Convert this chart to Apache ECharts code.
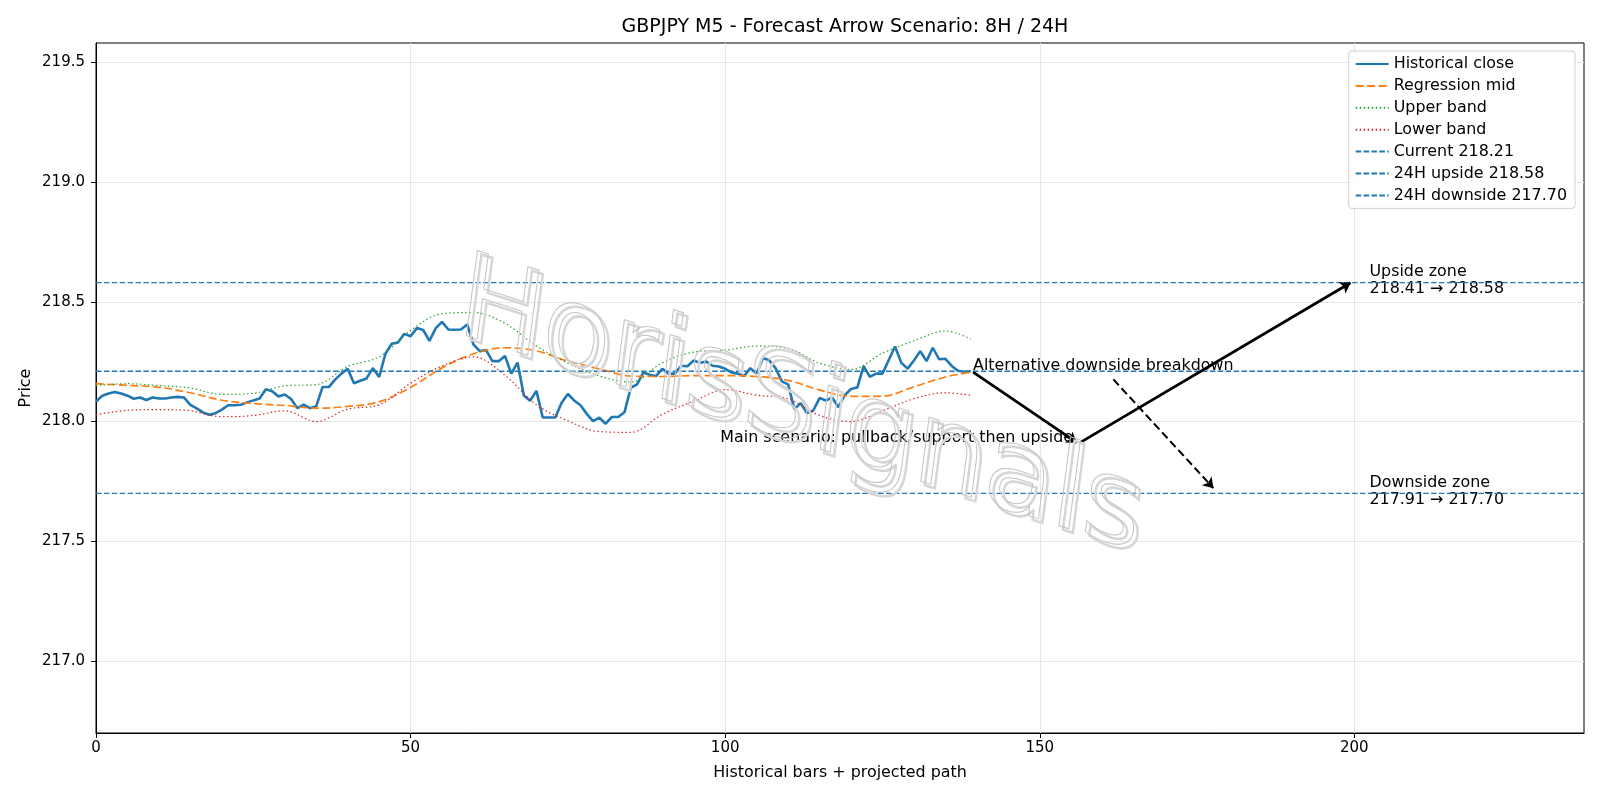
<!DOCTYPE html>
<html>
<head>
<meta charset="utf-8">
<script src="https://cdn.jsdelivr.net/npm/echarts@6/dist/echarts.min.js"></script>
<style>
  html, body { margin: 0; padding: 0; background: #fff; }
  #chart { width: 1600px; height: 800px; }
</style>
</head>
<body>
<div id="chart"></div>
<script>
// historical M5 closes, bar 0..139
const closes = [
  218.084, 218.108, 218.117, 218.123, 218.117, 218.108, 218.095, 218.100, 218.090, 218.100,
  218.096, 218.096, 218.100, 218.103, 218.100, 218.070, 218.055, 218.038, 218.028, 218.035,
  218.050, 218.068, 218.068, 218.070, 218.080, 218.088, 218.096, 218.135, 218.126, 218.105,
  218.113, 218.094, 218.056, 218.070, 218.056, 218.063, 218.144, 218.144, 218.175, 218.200,
  218.220, 218.160, 218.170, 218.180, 218.223, 218.186, 218.283, 218.325, 218.330, 218.366,
  218.356, 218.390, 218.382, 218.337, 218.390, 218.416, 218.384, 218.383, 218.384, 218.405,
  218.321, 218.294, 218.298, 218.252, 218.252, 218.274, 218.200, 218.246, 218.109, 218.087,
  218.128, 218.017, 218.017, 218.017, 218.078, 218.115, 218.088, 218.068, 218.032, 218.002,
  218.016, 217.991, 218.019, 218.019, 218.039, 218.141, 218.155, 218.205, 218.195, 218.190,
  218.220, 218.200, 218.200, 218.233, 218.231, 218.255, 218.245, 218.250, 218.233, 218.230,
  218.220, 218.205, 218.200, 218.190, 218.223, 218.200, 218.265, 218.256, 218.223, 218.168,
  218.155, 218.052, 218.077, 218.035, 218.046, 218.098, 218.088, 218.100, 218.060, 218.110,
  218.136, 218.142, 218.231, 218.187, 218.200, 218.200, 218.257, 218.313, 218.245, 218.221,
  218.255, 218.294, 218.252, 218.308, 218.260, 218.262, 218.232, 218.212, 218.208, 218.210
]

// regression channel, read every 5 bars
const bandX = [0, 5, 10, 15, 20, 25, 30, 35, 40, 45, 50, 55, 60, 65, 70, 75, 80, 85, 90, 95, 100, 105, 110, 115, 120, 125, 130, 135, 139]
const regMid = [218.158, 218.151, 218.143, 218.120, 218.089, 218.075, 218.067, 218.056, 218.063, 218.082, 218.143, 218.224, 218.283, 218.308, 218.295, 218.252, 218.220, 218.190, 218.188, 218.192, 218.192, 218.188, 218.172, 218.132, 218.105, 218.106, 218.145, 218.186, 218.205]
const upperBand = [218.150, 218.158, 218.150, 218.140, 218.113, 218.118, 218.149, 218.154, 218.230, 218.270, 218.380, 218.450, 218.455, 218.410, 218.315, 218.244, 218.190, 218.165, 218.245, 218.290, 218.298, 218.315, 218.305, 218.244, 218.217, 218.285, 218.337, 218.378, 218.345]
const lowerBand = [218.028, 218.047, 218.050, 218.045, 218.020, 218.025, 218.045, 218.000, 218.052, 218.070, 218.160, 218.232, 218.270, 218.193, 218.070, 218.003, 217.958, 217.955, 218.030, 218.085, 218.133, 218.110, 218.095, 218.025, 218.000, 218.045, 218.095, 218.120, 218.110]

const levelNames = ['Current 218.21', '24H upside 218.58', '24H downside 217.70']
const levelValues = [218.21, 218.58, 217.70]

const xRange = [0, 236.5]
const yRange = [216.70, 219.58]
const xTicks = [0, 50, 100, 150, 200]
const yTicks = [217.0, 217.5, 218.0, 218.5, 219.0, 219.5]

// projected path arrows
const mainLegs = [
  [[139.4, 218.206], [155.9, 217.912]],
  [[156.4, 217.912], [199.4, 218.579]]
]
const altLeg = [[161.7, 218.176], [177.6, 217.722]]

const notes = [
  { text: 'Main scenario: pullback/support then upside', at: [155.3, 217.93], side: 'left' },
  { text: 'Alternative downside breakdown', at: [139.4, 218.231], side: 'right' },
  { text: 'Upside zone\n218.41 → 218.58', at: [202.4, 218.588], side: 'right' },
  { text: 'Downside zone\n217.91 → 217.70', at: [202.4, 217.709], side: 'right' }
]

const FONT = 'DejaVu Sans'
const BLUE = '#1f77b4'
const FS = 15.9

const chart = echarts.init(document.getElementById('chart'))

const bandSeries = (name, ys, color, width, dash) => ({
  name: name,
  type: 'line',
  data: bandX.map((x, k) => [x, ys[k]]),
  symbol: 'none',
  smooth: 0.35,
  color: color,
  lineStyle: { color: color, width: width, type: dash },
  silent: true
})

const levelSeries = levelNames.map((name, k) => ({
  name: name,
  type: 'line',
  data: [[xRange[0], levelValues[k]], [xRange[1], levelValues[k]]],
  symbol: 'none',
  color: BLUE,
  lineStyle: { color: BLUE, width: 1.3, type: [5.5, 2.4] },
  silent: true
}))

chart.setOption({
  animation: false,
  backgroundColor: '#fff',
  textStyle: { fontFamily: FONT },
  title: {
    text: 'GBPJPY M5 - Forecast Arrow Scenario: 8H / 24H',
    left: 840,
    textAlign: 'center',
    top: 13,
    textStyle: { fontSize: 19, fontWeight: 'normal', color: '#000', fontFamily: FONT }
  },
  grid: {
    left: 96, right: 16, top: 43, bottom: 67,
    show: true, borderColor: '#000', borderWidth: 1,
    outerBoundsMode: 'none'
  },
  legend: {
    orient: 'vertical',
    right: 25,
    top: 51,
    data: ['Historical close', 'Regression mid', 'Upper band', 'Lower band'].concat(levelNames),
    itemWidth: 33,
    itemHeight: 14,
    itemGap: 5.9,
    itemTextGap: 12,
    padding: [5, 8, 5, 6],
    backgroundColor: 'rgba(255,255,255,0.85)',
    borderColor: '#d0d0d0',
    borderWidth: 1,
    borderRadius: 3,
    selectedMode: false,
    itemStyle: { opacity: 0 },
    textStyle: { fontSize: FS, color: '#000', fontFamily: FONT }
  },
  xAxis: {
    type: 'value',
    min: xRange[0],
    max: xRange[1],
    name: 'Historical bars + projected path',
    nameLocation: 'middle',
    nameGap: 32,
    nameTextStyle: { fontSize: FS, color: '#000', fontFamily: FONT },
    axisLine: { lineStyle: { color: '#000', width: 1 } },
    axisTick: { show: true, length: 5, lineStyle: { color: '#000' }, customValues: xTicks },
    axisLabel: { color: '#000', fontSize: 15, margin: 8, fontFamily: FONT, customValues: xTicks, formatter: v => String(v) },
    splitLine: { show: true, lineStyle: { color: '#e6e6e6', width: 1 } }
  },
  yAxis: {
    type: 'value',
    min: yRange[0],
    max: yRange[1],
    name: 'Price',
    nameLocation: 'middle',
    nameGap: 62,
    nameMoveOverlap: false,
    nameTextStyle: { fontSize: FS, color: '#000', fontFamily: FONT },
    axisLine: { show: true, lineStyle: { color: '#000', width: 1 } },
    axisTick: { show: true, length: 5, lineStyle: { color: '#000' }, customValues: yTicks },
    axisLabel: { color: '#000', fontSize: 15, margin: 11, fontFamily: FONT, customValues: yTicks, formatter: v => v.toFixed(1) },
    splitLine: { show: true, lineStyle: { color: '#e6e6e6', width: 1 } }
  },
  graphic: [
    {
      type: 'text', x: 804, y: 415, rotation: -0.31, skewX: 0.18, z: 50, silent: true,
      style: { text: 'HorisSignals', font: '116px "DejaVu Sans"', fill: 'transparent', stroke: '#d6d6d6', lineWidth: 2.5, align: 'center', verticalAlign: 'middle' }
    },
    {
      type: 'text', x: 800, y: 411, rotation: -0.31, skewX: 0.18, z: 51, silent: true,
      style: { text: 'HorisSignals', font: '116px "DejaVu Sans"', fill: 'transparent', stroke: '#c4c4c4', lineWidth: 1, align: 'center', verticalAlign: 'middle' }
    }
  ],
  series: [
    {
      name: 'Historical close',
      type: 'line',
      data: closes.map((v, i) => [i, v]),
      symbol: 'none',
      color: BLUE,
      lineStyle: { color: BLUE, width: 2.6 },
      silent: true
    },
    bandSeries('Regression mid', regMid, '#ff7f0e', 1.7, [8, 3.4]),
    bandSeries('Upper band', upperBand, '#2ca02c', 1.2, [1.5, 2.5]),
    bandSeries('Lower band', lowerBand, '#d62728', 1.2, [1.5, 2.5])
  ].concat(levelSeries, [
    {
      name: 'arrows',
      type: 'line',
      data: [],
      silent: true,
      markLine: {
        silent: true,
        symbol: ['none', 'arrow'],
        symbolSize: 10,
        label: { show: false },
        emphasis: { disabled: true },
        lineStyle: { color: '#000', width: 2.8, type: 'solid' },
        data: mainLegs.map(leg => [{ coord: leg[0] }, { coord: leg[1] }]).concat([
          [{ coord: altLeg[0], lineStyle: { color: '#000', width: 2, type: [8, 4] }, symbolSize: 9 }, { coord: altLeg[1] }]
        ])
      }
    },
    {
      name: 'notes',
      type: 'scatter',
      silent: true,
      symbolSize: 0,
      itemStyle: { color: '#000' },
      data: notes.map(n => ({
        value: n.at,
        label: {
          show: true,
          formatter: n.text,
          position: n.side,
          distance: 0,
          align: n.side === 'left' ? 'right' : 'left',
          color: '#000',
          opacity: 1,
          fontSize: FS,
          lineHeight: 17,
          fontFamily: FONT
        }
      }))
    }
  ])
})
</script>
</body>
</html>
